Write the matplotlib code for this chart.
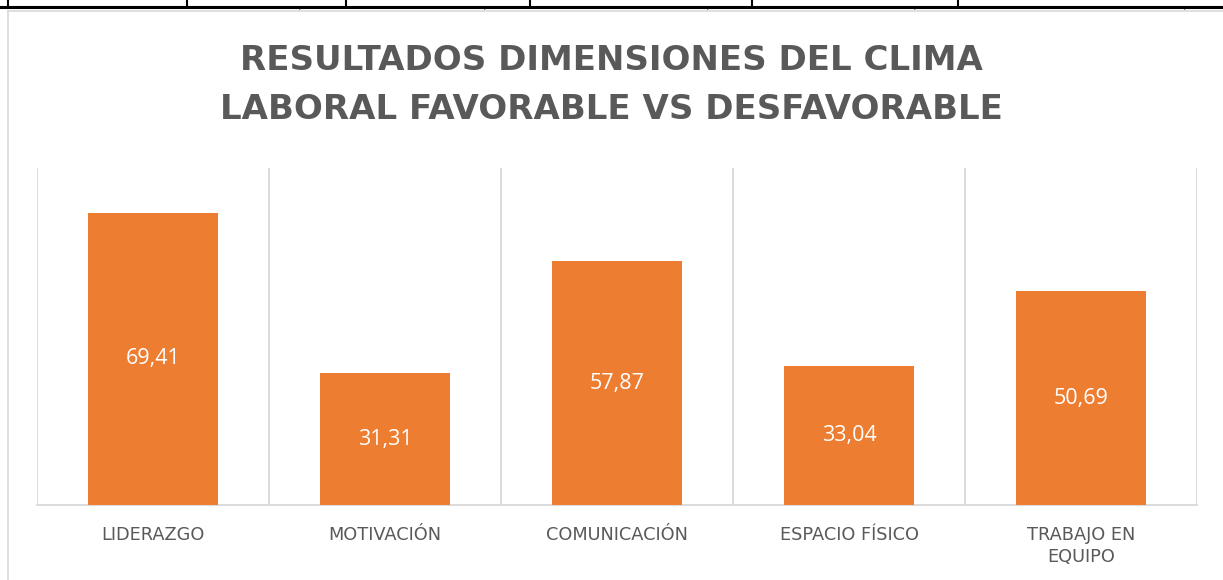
import matplotlib
import matplotlib.pyplot as plt
from matplotlib.lines import Line2D

matplotlib.use("Agg")

# data
categorias = ["LIDERAZGO", "MOTIVACIÓN", "COMUNICACIÓN", "ESPACIO FÍSICO", "TRABAJO EN\nEQUIPO"]
valores = [69.41, 31.31, 57.87, 33.04, 50.69]
titulo = "RESULTADOS DIMENSIONES DEL CLIMA\nLABORAL FAVORABLE VS DESFAVORABLE"

# table row cut off above the chart: column borders (px) and comma marks
columnas_tabla = [8, 187, 346, 530, 752, 958]
comas_tabla = [300, 485, 708, 915, 1185]

NARANJA = "#ED7D31"
GRIS_TXT = "#595959"
GRIS_LINEA = "#D9D9D9"
W, H = 1223, 580

plt.rcParams["font.family"] = ["Open Sans", "DejaVu Sans"]

fig = plt.figure(figsize=(W / 100, H / 100), dpi=100)
fig.patch.set_facecolor("white")

# chart frame + table border lines, in pixel coordinates
def px_line(xs, ys, color, lw):
    fig.add_artist(Line2D([x / W for x in xs], [1 - y / H for y in ys],
                          color=color, linewidth=lw, transform=fig.transFigure))

px_line([8, 8], [10.5, 580], GRIS_LINEA, 1.2)
px_line([8, 1223], [10.5, 10.5], GRIS_LINEA, 1.2)
px_line([0, 1223], [7, 7], "black", 2.2)
for xc in columnas_tabla:
    px_line([xc, xc], [0, 7], "black", 1.5)
for xc in comas_tabla:
    fig.text(xc / W, 1 - 0.5 / H, ",", color="black", fontsize=7,
             ha="center", va="top")

ax = fig.add_axes([37 / W, 1 - 505 / H, (1197 - 37) / W, (505 - 168) / H])
x = range(len(categorias))
bars = ax.bar(x, valores, width=0.56, color=NARANJA, zorder=3)

for b, v in zip(bars, valores):
    ax.text(b.get_x() + b.get_width() / 2, v / 2, f"{v:.2f}".replace(".", ","),
            ha="center", va="center", color="white", fontsize=15.5, zorder=4)

ax.set_xlim(-0.5, len(categorias) - 0.5)
ax.set_ylim(0, 80)
ax.set_yticks([])
ax.set_xticks(list(x))
ax.set_xticklabels(categorias, color=GRIS_TXT, fontsize=12.8, linespacing=1.3,
                   family="DejaVu Sans")
ax.tick_params(axis="x", length=0, pad=15)

# vertical separators between categories
for xb in [i - 0.5 for i in range(len(categorias) + 1)]:
    ax.axvline(xb, color=GRIS_LINEA, linewidth=1.3, zorder=1)
for side in ["top", "right", "left"]:
    ax.spines[side].set_visible(False)
ax.spines["bottom"].set_color(GRIS_LINEA)
ax.spines["bottom"].set_linewidth(1.3)

fig.text(0.5, 1 - 85 / H, titulo, ha="center", va="center", color=GRIS_TXT,
         fontsize=24.5, fontweight="bold", linespacing=1.6, family="DejaVu Sans")

fig.savefig("out.png", dpi=100)
